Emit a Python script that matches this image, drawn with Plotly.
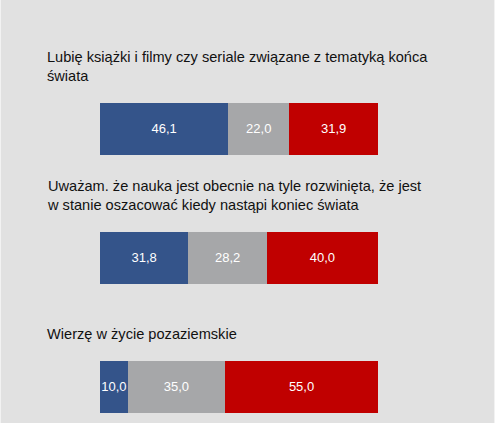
import plotly.graph_objects as go

# Dane
pytania = [
    "Lubię książki i filmy czy seriale związane z tematyką końca<br>świata",
    "Uważam. że nauka jest obecnie na tyle rozwinięta, że jest<br>w stanie oszacować kiedy nastąpi koniec świata",
    "Wierzę w życie pozaziemskie",
]
tak = [46.1, 31.8, 10.0]
trudno = [22.0, 28.2, 35.0]
nie = [31.9, 40.0, 55.0]

pozycje = [0, 1, 2]
kolory = ["#34548a", "#a6a7a9", "#c00000"]

fig = go.Figure()
for wartosci, kolor in zip([tak, trudno, nie], kolory):
    fig.add_trace(go.Bar(
        y=pozycje, x=wartosci, orientation="h",
        width=0.405,
        marker=dict(color=kolor, line=dict(width=0)),
        texttemplate="%{x:.1f}",
        textposition="inside",
        insidetextanchor="middle",
        textangle=0,
        textfont=dict(color="white", size=13, family="Liberation Sans, Arial"),
        cliponaxis=False,
        hoverinfo="skip",
    ))

# Pytania nad słupkami
for p, tekst in zip(pozycje, pytania):
    fig.add_annotation(
        x=-55 / 278, y=p - 0.2, xref="paper", yref="y",
        text=tekst, showarrow=False,
        xanchor="left", yanchor="bottom", align="left",
        yshift=17,
        font=dict(size=14.6, color="#111111", family="Liberation Sans, Arial"),
    )

# cienkie jasne krawędzie
for xp in [-99.5 / 278, 394.5 / 278]:
    fig.add_shape(type="line", xref="paper", yref="paper",
                  x0=xp, x1=xp, y0=0, y1=1,
                  line=dict(color="#f2f2f2", width=1))

fig.update_layout(
    barmode="stack",
    width=495, height=423,
    margin=dict(l=100, r=117, t=0, b=0),
    paper_bgcolor="#e1e1e1",
    plot_bgcolor="#e1e1e1",
    separators=", ",
    showlegend=False,
    uniformtext=dict(minsize=13, mode="show"),
    xaxis=dict(range=[0, 100], visible=False, fixedrange=True),
    yaxis=dict(range=[2.28, -1.0], visible=False, fixedrange=True),
)

fig.write_html("out.html", config={"displayModeBar": False},
               post_script="document.body.style.margin='0';")
